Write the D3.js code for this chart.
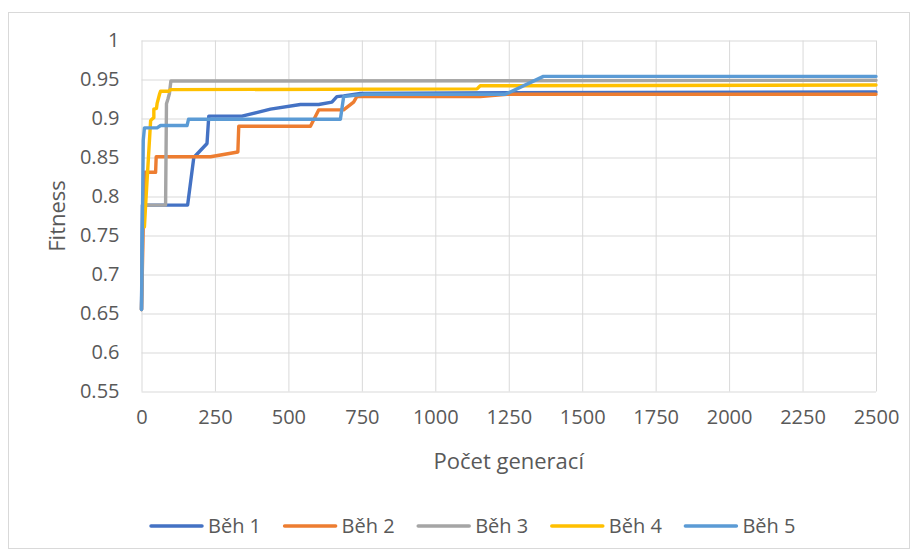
<!DOCTYPE html>
<html>
<head>
<meta charset="utf-8">
<script src="https://cdn.jsdelivr.net/npm/d3@7"></script>
<style>
  html, body { margin: 0; padding: 0; background: #fff; }
  svg text { font-family: "Open Sans", Calibri, sans-serif; fill: #595959; }
</style>
</head>
<body>
<svg id="chart" width="918" height="555"></svg>
<script>
// Fitness progress of five runs over generations: [generation, fitness]
const run1 = [[0,0.655],[3,0.789],[157,0.789],[178,0.850],[223,0.868],[229,0.903],[342,0.903],[439,0.912],[541,0.918],[603,0.918],[648,0.921],[665,0.928],[688,0.929],[745,0.932],[1250,0.933],[2500,0.934]];
const run2 = [[0,0.655],[10,0.831],[48,0.831],[50,0.851],[235,0.851],[328,0.857],[331,0.890],[575,0.890],[603,0.911],[688,0.911],[722,0.921],[733,0.928],[1153,0.928],[1244,0.931],[2500,0.931]];
const run3 = [[0,0.655],[5,0.789],[82,0.789],[85,0.919],[90,0.925],[95,0.932],[100,0.948],[2500,0.949]];
const run4 = [[10,0.761],[14,0.789],[31,0.897],[35,0.899],[42,0.901],[42,0.912],[51,0.913],[53,0.919],[62,0.932],[65,0.935],[93,0.935],[99,0.937],[1142,0.938],[1153,0.942],[2500,0.943]];
const run5 = [[0,0.655],[6,0.872],[10,0.888],[53,0.888],[65,0.891],[155,0.891],[160,0.899],[677,0.899],[688,0.928],[756,0.931],[1238,0.931],[1368,0.954],[2500,0.954]];

const seriesNames = ["Běh 1", "Běh 2", "Běh 3", "Běh 4", "Běh 5"];
const seriesColors = ["#4472C4", "#ED7D31", "#A5A5A5", "#FFC000", "#5B9BD5"];
const xTicks = [0, 250, 500, 750, 1000, 1250, 1500, 1750, 2000, 2250, 2500];
const yTicks = [0.55, 0.6, 0.65, 0.7, 0.75, 0.8, 0.85, 0.9, 0.95, 1];
const xTitle = "Počet generací";
const yTitle = "Fitness";

const runs = [run1, run2, run3, run4, run5];

const svg = d3.select("#chart");

// outer chart border
svg.append("rect")
  .attr("x", 8.5).attr("y", 12.5)
  .attr("width", 901).attr("height", 536)
  .attr("fill", "#fff").attr("stroke", "#D9D9D9").attr("stroke-width", 1);

const x = d3.scaleLinear().domain([0, 2500]).range([141.5, 876]);
const y = d3.scaleLinear().domain([0.55, 1]).range([391.5, 40.5]);

// gridlines
const gridX = d3.axisBottom(x).tickValues(xTicks).tickSize(-(y(0.55) - y(1))).tickFormat("");
svg.append("g").attr("transform", `translate(0,${y(0.55)})`).call(gridX)
  .call(g => g.select(".domain").remove())
  .call(g => g.selectAll("line").attr("stroke", "#D9D9D9").attr("stroke-width", 1));

const gridY = d3.axisLeft(y).tickValues(yTicks).tickSize(-(x(2500) - x(0))).tickFormat("");
svg.append("g").attr("transform", `translate(${x(0)},0)`).call(gridY)
  .call(g => g.select(".domain").remove())
  .call(g => g.selectAll("line").attr("stroke", "#D9D9D9").attr("stroke-width", 1));

// tick labels
const xAxis = d3.axisBottom(x).tickValues(xTicks).tickSize(0).tickPadding(18).tickFormat(d3.format("d"));
svg.append("g").attr("transform", `translate(0,${y(0.55)})`).call(xAxis)
  .call(g => g.select(".domain").remove())
  .call(g => g.selectAll("text").attr("font-size", 20).attr("fill", "#595959")
    .attr("font-family", "Open Sans, sans-serif"));

const yAxis = d3.axisLeft(y).tickValues(yTicks).tickSize(0).tickPadding(22).tickFormat(d => String(+d.toFixed(2)));
svg.append("g").attr("transform", `translate(${x(0)},0)`).call(yAxis)
  .call(g => g.select(".domain").remove())
  .call(g => g.selectAll("text").attr("font-size", 20).attr("fill", "#595959")
    .attr("font-family", "Open Sans, sans-serif"));

// axis titles
svg.append("text").attr("x", (x(0) + x(2500)) / 2).attr("y", 469)
  .attr("text-anchor", "middle").attr("font-size", 22).text(xTitle);
svg.append("text").attr("transform", `translate(65,${(y(0.55) + y(1)) / 2}) rotate(-90)`)
  .attr("text-anchor", "middle").attr("font-size", 22).text(yTitle);

// series lines
const line = d3.line().x(d => x(d[0])).y(d => y(d[1]));
runs.forEach((r, i) => {
  svg.append("path").datum(r)
    .attr("d", line)
    .attr("fill", "none")
    .attr("stroke", seriesColors[i])
    .attr("stroke-width", 3.4)
    .attr("stroke-linejoin", "round")
    .attr("stroke-linecap", "round");
});

// legend
const legend = svg.append("g");
seriesNames.forEach((name, i) => {
  const lx = 151 + i * 133.6;
  legend.append("line").attr("x1", lx).attr("x2", lx + 51)
    .attr("y1", 526).attr("y2", 526)
    .attr("stroke", seriesColors[i]).attr("stroke-width", 3.5).attr("stroke-linecap", "round");
  legend.append("text").attr("x", lx + 57).attr("y", 533)
    .attr("font-size", 20).text(name);
});
</script>
</body>
</html>
